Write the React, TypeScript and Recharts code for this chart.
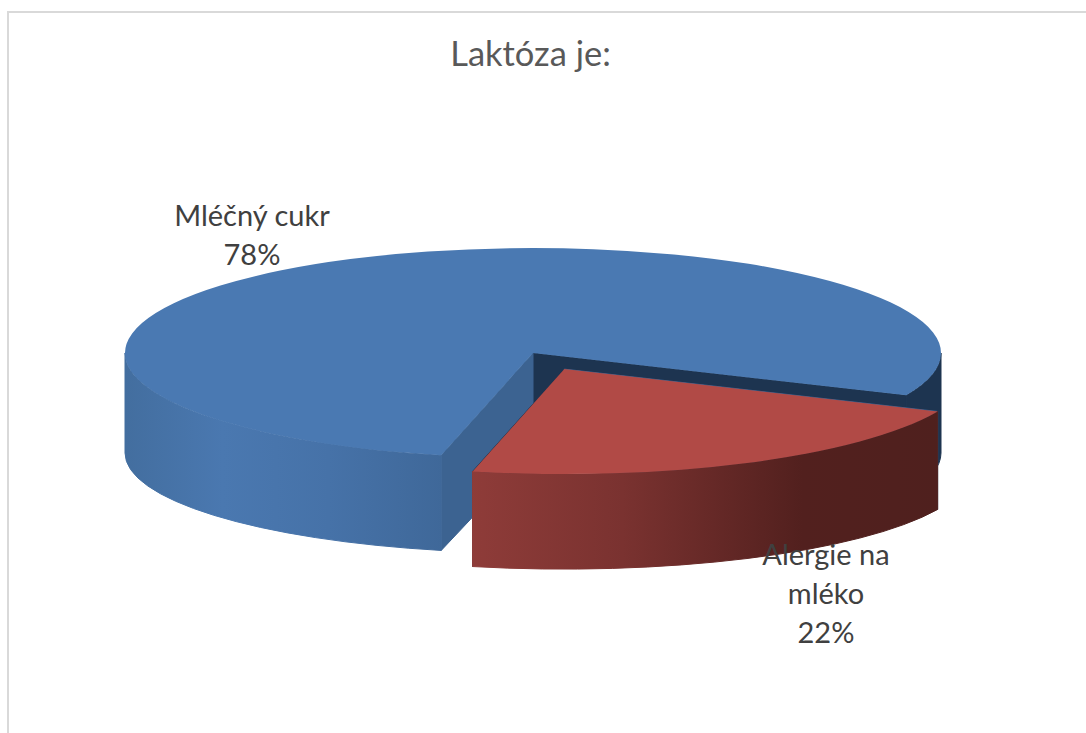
import { PieChart, Pie } from 'recharts';

const categories = ['Mléčný cukr', 'Alergie na mléko'];
const shares = [78, 22];
const labelRows = [['Mléčný cukr'], ['Alergie na', 'mléko']];

const chartData = categories.map((name, i) => ({ name, value: shares[i] }));

const topColors = ['#4a79b2', '#b14a46'];
const cutColors = [
  ['#3c6391', '#1d3450'],
  ['#3c6391', '#1d3450'],
];
const wallStops = [
  [
    [0, '#436e9f'],
    [0.12, '#4a78b0'],
    [0.25, '#4672a8'],
    [0.39, '#3f6899'],
    [0.9, '#1d3450'],
    [1, '#1d3450'],
  ],
  [
    [0.42, '#8f3c39'],
    [0.61, '#7a3230'],
    [0.83, '#52201e'],
    [1, '#4f201e'],
  ],
];
const explode = [0, 70];
const labelSpots = [
  { x: 252, y: 226 },
  { x: 826, y: 565 },
];

const TILT = 105 / 408;
const DEPTH = 100;
const BOTTOM_RY = 100;
const LINE_HEIGHT = 39;
const FONT = 'Lato, sans-serif';

// slice drawn as a tilted disc wedge from the angles the Pie computed
function Slice3D(props: any) {
  const { cx, cy, outerRadius: r, startAngle, endAngle, index } = props;
  const t0 = 90 - startAngle;
  const t1 = 90 - endAngle;
  const mid = ((t0 + t1) / 2) * (Math.PI / 180);
  const ox = cx + explode[index] * Math.sin(mid);
  const oy = cy - explode[index] * TILT * Math.cos(mid);
  const ry = r * TILT;

  const top = (t: number) => {
    const a = (t * Math.PI) / 180;
    return [ox + r * Math.sin(a), oy - ry * Math.cos(a)];
  };
  const bottom = (t: number) => {
    const a = (t * Math.PI) / 180;
    return [ox + r * Math.sin(a), oy + DEPTH - BOTTOM_RY * Math.cos(a)];
  };

  const gradId = `wall-${index}`;
  const walls: any[] = [];
  [0, 360].forEach((k) => {
    const from = Math.max(t0, 90 + k);
    const to = Math.min(t1, 270 + k);
    if (to <= from) return;
    const [ax, ay] = top(from);
    const [bx, by] = top(to);
    const [cx2, cy2] = bottom(to);
    const [dx, dy] = bottom(from);
    walls.push(
      <path
        key={k}
        fill={`url(#${gradId})`}
        stroke={`url(#${gradId})`}
        strokeWidth={1}
        d={`M${ax} ${ay}A${r} ${ry} 0 0 1 ${bx} ${by}L${cx2} ${cy2}A${r} ${BOTTOM_RY} 0 0 0 ${dx} ${dy}Z`}
      />,
    );
  });

  const cut = (t: number, fill: string) => {
    const [px, py] = top(t);
    const [qx, qy] = bottom(t);
    return (
      <path
        fill={fill}
        stroke={fill}
        strokeWidth={1}
        d={`M${ox} ${oy}L${px} ${py}L${qx} ${qy}L${ox} ${oy + DEPTH}Z`}
      />
    );
  };

  const [sx, sy] = top(t0);
  const [ex, ey] = top(t1);
  const large = t1 - t0 > 180 ? 1 : 0;

  return (
    <g>
      <defs>
        <linearGradient id={gradId} gradientUnits="userSpaceOnUse" x1={cx - r} x2={cx + r} y1={0} y2={0}>
          {wallStops[index].map(([offset, color]) => (
            <stop key={offset} offset={offset} stopColor={color as string} />
          ))}
        </linearGradient>
      </defs>
      {cut(t1, cutColors[index][1])}
      {cut(t0, cutColors[index][0])}
      {walls}
      <path fill={topColors[index]} d={`M${ox} ${oy}L${sx} ${sy}A${r} ${ry} 0 ${large} 1 ${ex} ${ey}Z`} />
    </g>
  );
}

function SliceLabel(props: any) {
  const { index, value } = props;
  const spot = labelSpots[index];
  const rows = [...labelRows[index], `${value}%`];
  return (
    <text x={spot.x} y={spot.y} textAnchor="middle" fontFamily={FONT} fontSize={29} fill="#404040">
      {rows.map((row, i) => (
        <tspan key={row} x={spot.x} y={spot.y + i * LINE_HEIGHT}>
          {row}
        </tspan>
      ))}
    </text>
  );
}

export default function App() {
  return (
    <div style={{ position: 'absolute', left: 0, top: 0, width: 1086, height: 733, overflow: 'hidden', background: '#fff' }}>
      <div
        style={{
          position: 'absolute',
          left: 7,
          top: 11,
          right: 0,
          bottom: 0,
          borderTop: '2px solid #d9d9d9',
          borderLeft: '2px solid #d9d9d9',
        }}
      />
      <div style={{ position: 'absolute', left: 0, top: 0 }}>
        <PieChart width={1086} height={733} margin={{ top: 0, right: 0, bottom: 0, left: 0 }}>
          <text x={530.5} y={66} textAnchor="middle" fontFamily={FONT} fontSize={34.5} fill="#595959">
            Laktóza je:
          </text>
          <Pie
            data={chartData}
            dataKey="value"
            nameKey="name"
            cx={533}
            cy={353}
            innerRadius={0}
            outerRadius={408}
            startAngle={-103}
            endAngle={-463}
            paddingAngle={0}
            stroke="none"
            shape={Slice3D}
            label={SliceLabel}
            labelLine={false}
            isAnimationActive={false}
          />
        </PieChart>
      </div>
    </div>
  );
}
